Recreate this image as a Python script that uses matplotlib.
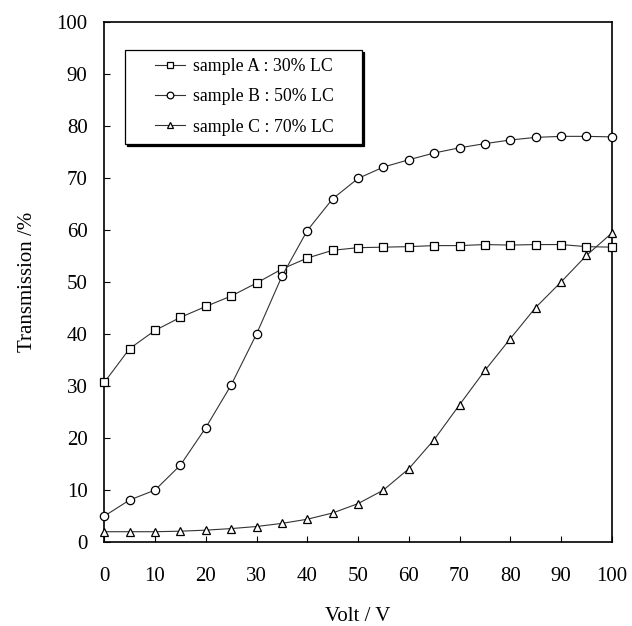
#!/usr/bin/env python3
"""Transmission vs. applied voltage for three LC concentrations."""

import matplotlib

matplotlib.use("Agg")
import matplotlib.pyplot as plt
from matplotlib.offsetbox import DrawingArea, HPacker

# Data.
volts = [0, 5, 10, 15, 20, 25, 30, 35, 40, 45, 50,
         55, 60, 65, 70, 75, 80, 85, 90, 95, 100]
sample_a = [30.7, 37.2, 40.7, 43.2, 45.3, 47.3, 49.8, 52.5, 54.6, 56.1, 56.6,
            56.7, 56.8, 57.0, 57.0, 57.2, 57.1, 57.2, 57.2, 56.8, 56.7]
sample_b = [5.0, 8.1, 10.0, 14.8, 22.0, 30.2, 40.0, 51.1, 59.9, 66.0, 69.9,
            72.1, 73.5, 74.8, 75.8, 76.6, 77.3, 77.8, 78.0, 78.0, 77.9]
sample_c = [2.0, 2.0, 2.0, 2.1, 2.3, 2.6, 3.0, 3.6, 4.4, 5.6, 7.4,
            10.0, 14.1, 19.7, 26.4, 33.0, 39.1, 45.1, 50.0, 55.1, 59.4]
labels = ["sample A : 30% LC", "sample B : 50% LC", "sample C : 70% LC"]
markers = ["s", "o", "^"]
xticks = [0, 10, 20, 30, 40, 50, 60, 70, 80, 90, 100]
yticks = [0, 10, 20, 30, 40, 50, 60, 70, 80, 90, 100]

plt.rcParams["font.family"] = ["Liberation Serif", "DejaVu Serif"]

fig = plt.figure(figsize=(6.32, 6.26), dpi=100)
ax = fig.add_axes([0.165, 0.134, 0.803, 0.831])

for series, marker, label in zip([sample_a, sample_b, sample_c], markers, labels):
    ax.plot(volts, series, color="#333333", linewidth=0.8, marker=marker,
            markersize=6, markerfacecolor="white", markeredgecolor="black",
            markeredgewidth=0.9, label=label, clip_on=False, zorder=3)

ax.set_xlim(0, 100)
ax.set_ylim(0, 100)
ax.set_xticks(xticks)
ax.set_yticks(yticks)
ax.tick_params(axis="both", direction="in", length=4, width=0.8,
               labelsize=15, colors="black")
ax.tick_params(axis="x", pad=18)
ax.tick_params(axis="y", pad=12)
for spine in ax.spines.values():
    spine.set_linewidth(1.2)

ax.set_xlabel("Volt / V", fontsize=15, labelpad=15)
ax.set_ylabel("Transmission /%", fontsize=15, labelpad=14)

leg = ax.legend(loc="upper left", bbox_to_anchor=(0.041, 0.946), fontsize=12.75,
                frameon=True, fancybox=False, edgecolor="black",
                shadow={"color": "black", "alpha": 1.0, "ox": 1.5, "oy": -1.5},
                handlelength=1.7, handletextpad=0.45, labelspacing=0.75,
                borderpad=0.45, borderaxespad=0.0, markerscale=0.8)
leg.get_frame().set_linewidth(0.9)

# extra side padding inside the legend box (wider than tall, as in the scan)
inner = leg._legend_box
outer = HPacker(pad=0, sep=0, align="center",
                children=[DrawingArea(16, 1), inner, DrawingArea(14, 1)])
outer.set_figure(fig)
outer.set_offset(leg._findoffset)
leg._legend_box = outer

fig.savefig("out.png", dpi=100)
